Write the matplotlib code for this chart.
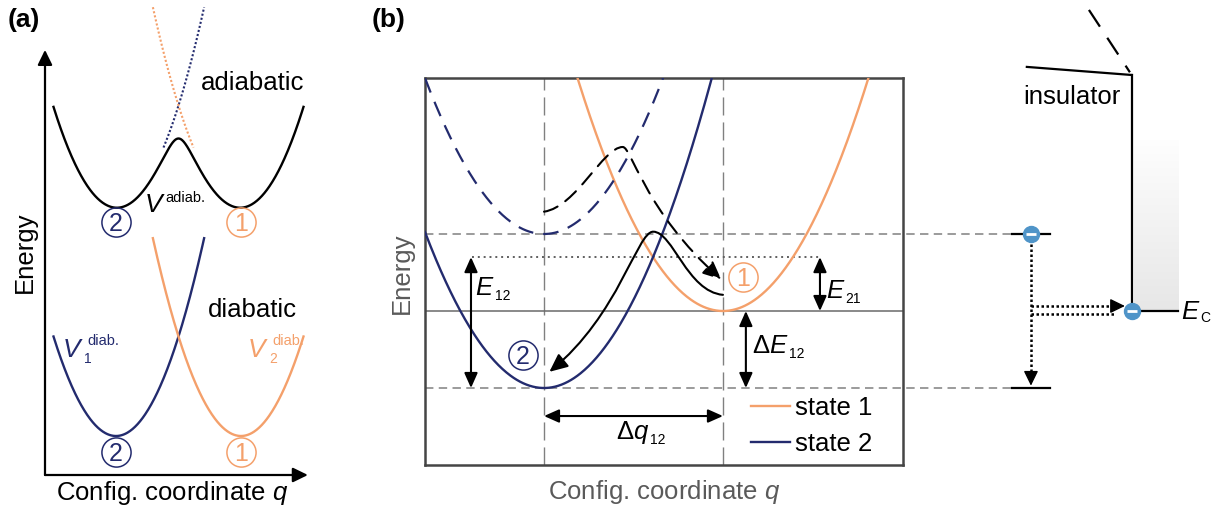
import numpy as np
import matplotlib
matplotlib.use("Agg")
import matplotlib.pyplot as plt
import matplotlib.transforms as mtransforms
from matplotlib.path import Path
from matplotlib.patches import FancyArrowPatch
from matplotlib.lines import Line2D

plt.rcParams['font.family'] = ['Liberation Sans', 'DejaVu Sans']
plt.rcParams['mathtext.fontset'] = 'custom'
plt.rcParams['mathtext.rm'] = 'Liberation Sans'
plt.rcParams['mathtext.it'] = 'Liberation Sans:italic'
plt.rcParams['mathtext.bf'] = 'Liberation Sans:bold'

NAVY = '#232b6e'
ORANGE = '#f4a06b'
GRID = '#808080'
LABEL_GRAY = '#5a5a5a'
ELECTRON = '#4f94c8'

# ---------------- (a) diabatic vs. adiabatic surfaces ----------------
a_q_min = [0.0, 1.0]            # well positions: state 2 (V1), state 1 (V2)
a_E_min = [0.0, 0.0]            # diabatic minima
a_curv = 3.98                   # harmonic curvature
a_adiab_offset = 2.31           # adiabatic pair drawn above the diabatic pair
a_coupling = 0.33               # electronic coupling splitting the crossing
a_span_v1 = [-0.50, 0.705]
a_span_v2 = [0.295, 1.50]
a_span_adiab = [-0.50, 1.50]
a_dotted_v1 = [0.38, 0.705]
a_dotted_v2 = [0.295, 0.62]

# ---------------- (b) configuration-coordinate diagram ----------------
b_state_names = ['state 1', 'state 2']
b_q_min = [1.0, 0.0]            # state 1, state 2
b_E_min = [1.0, 0.0]
b_curv = 4.58
b_E_state2_raised = 2.0         # state 2 shifted up (dashed)
b_E_cross = 1.70                # crossing energy of the two solid parabolas
b_dq = [0.0, 1.0]               # Delta q12 span
# capture paths (cubic Bezier control points)
b_path_solid = [(1.0, 1.21), (0.80, 1.25), (0.72, 2.03), (0.61, 2.03),
                (0.52, 2.03), (0.42, 0.95), (0.03, 0.21)]
b_path_dashed = [(0.0, 2.29), (0.18, 2.35), (0.33, 3.13), (0.44, 3.13),
                 (0.49, 3.13), (0.56, 2.30), (0.99, 1.41)]
# band sketch on the right
b_defect_q = [2.615, 2.827]
b_defect_E = [2.0, 0.0]
b_Ec = 1.0
b_Ec_q = [3.285, 3.542]
b_insul_q = 3.285
b_insul_top = 4.065
b_slant_q = [2.698, 3.285]
b_slant_E = [4.17, 4.065]
b_dash_q = [3.045, 3.274]
b_dash_E = [4.91, 4.10]
b_shade_q = [3.296, 3.542]
b_shade_E = [1.0, 3.22]

W, H = 1213, 511
fig = plt.figure(figsize=(W / 100, H / 100), dpi=100)
renderer = fig.canvas.get_renderer()


def frame(x0, y0, x1, y1):
    return [x0 / W, 1 - y1 / H, (x1 - x0) / W, (y1 - y0) / H]


axA = fig.add_axes(frame(45, 0, 310, 475))
axB = fig.add_axes(frame(425, 78, 903, 465))


def circled(ax, q, E, digit, color):
    ax.plot([q], [E], marker='o', ms=21, mfc='none', mec=color, mew=1.1,
            clip_on=False, zorder=6)
    tr = mtransforms.offset_copy(ax.transData, fig=fig, x=0, y=-6.3, units='points')
    ax.text(q, E, digit, color=color, fontsize=18, ha='center', va='baseline',
            transform=tr, zorder=6)


def scripted(ax, q, E, base, sub=None, sup=None, color='k', size=18.5,
             sub_size=10, sup_size=10.5, sub_dx=0.0, sub_dy=-3.6, sup_dx=0.0, sup_dy=7.5):
    """Symbol with a small upright subscript and/or superscript."""
    t = ax.text(q, E, base, fontsize=size, color=color, ha='left', va='baseline')
    w_pt = t.get_window_extent(renderer).width * 72 / fig.dpi
    if sub:
        tr = mtransforms.offset_copy(ax.transData, fig=fig, x=w_pt + sub_dx,
                                     y=sub_dy, units='points')
        ax.text(q, E, sub, fontsize=sub_size, color=color, ha='left',
                va='baseline', transform=tr)
    if sup:
        tr = mtransforms.offset_copy(ax.transData, fig=fig, x=w_pt + sup_dx,
                                     y=sup_dy, units='points')
        ax.text(q, E, sup, fontsize=sup_size, color=color, ha='left',
                va='baseline', transform=tr)


def parab(q, q0, E0, k):
    return E0 + k * (q - q0) ** 2


# ---------- panel (a) ----------
axA.set_xlim(-0.568, 1.552)
axA.set_ylim(-0.39, 4.36)
axA.axis('off')

q1 = np.linspace(*a_span_v1, 300)
q2 = np.linspace(*a_span_v2, 300)
axA.plot(q1, parab(q1, a_q_min[0], a_E_min[0], a_curv), color=NAVY, lw=1.7)
axA.plot(q2, parab(q2, a_q_min[1], a_E_min[1], a_curv), color=ORANGE, lw=1.7)

qa = np.linspace(*a_span_adiab, 500)
v1 = parab(qa, a_q_min[0], a_E_min[0], a_curv)
v2 = parab(qa, a_q_min[1], a_E_min[1], a_curv)
v_ad = a_adiab_offset + (v1 + v2) / 2 - np.sqrt(((v1 - v2) / 2) ** 2 + a_coupling ** 2)
axA.plot(qa, v_ad, color='k', lw=1.7, zorder=4)

qd1 = np.linspace(*a_dotted_v1, 100)
qd2 = np.linspace(*a_dotted_v2, 100)
axA.plot(qd1, a_adiab_offset + parab(qd1, a_q_min[0], a_E_min[0], a_curv),
         color=NAVY, lw=1.5, ls=(0, (1, 1)), zorder=3)
axA.plot(qd2, a_adiab_offset + parab(qd2, a_q_min[1], a_E_min[1], a_curv),
         color=ORANGE, lw=1.5, ls=(0, (1, 1)), zorder=3)

circled(axA, a_q_min[0], a_adiab_offset - 0.17, '2', NAVY)
circled(axA, a_q_min[1], a_adiab_offset - 0.17, '1', ORANGE)
circled(axA, a_q_min[0], a_E_min[0] - 0.16, '2', NAVY)
circled(axA, a_q_min[1], a_E_min[1] - 0.16, '1', ORANGE)

axA.text(1.092, 3.46, 'adiabatic', fontsize=18.5, ha='center', va='baseline')
axA.text(1.088, 1.19, 'diabatic', fontsize=18.5, ha='center', va='baseline')
scripted(axA, 0.225, 2.24, r'$V$', sup='adiab.', size=19, sup_dx=0.0, sup_dy=7.0)
scripted(axA, -0.43, 0.79, r'$V$', sub='1', sup='diab.', color=NAVY, size=19,
         sub_size=10, sub_dx=0.0, sub_dy=-4.3, sup_dx=2.5, sup_dy=8.6)
scripted(axA, 1.05, 0.79, r'$V$', sub='2', sup='diab.', color=ORANGE, size=19,
         sub_size=10, sub_dx=0.0, sub_dy=-4.3, sup_dx=2.5, sup_dy=8.6)

ax_arrow = dict(arrowstyle='-|>,head_length=0.45,head_width=0.22', color='k',
                lw=1.6, shrinkA=0, shrinkB=0, mutation_scale=20)
axA.annotate('', xy=(0, 0.895), xytext=(0, 0), xycoords='axes fraction',
             textcoords='axes fraction', arrowprops=ax_arrow)
axA.annotate('', xy=(0.992, 0), xytext=(0, 0), xycoords='axes fraction',
             textcoords='axes fraction', arrowprops=ax_arrow)
axA.text(-0.0755, 0.469, 'Energy', rotation=90, fontsize=18.5, ha='center',
         va='center', transform=axA.transAxes)
axA.text(0.479, -0.038, 'Config. coordinate $q$', fontsize=18.5, ha='center',
         va='center', transform=axA.transAxes)

# ---------- panel (b) ----------
xlo, xhi, ylo, yhi = -0.665, 2.006, -1.0, 4.026
axB.set_xlim(xlo, xhi)
axB.set_ylim(ylo, yhi)
axB.set_xticks([])
axB.set_yticks([])
for s in axB.spines.values():
    s.set_color('#454545')
    s.set_linewidth(1.8)

qb = np.linspace(xlo, xhi, 600)
axB.plot(qb, parab(qb, b_q_min[0], b_E_min[0], b_curv), color=ORANGE, lw=1.7, zorder=3)
axB.plot(qb, parab(qb, b_q_min[1], b_E_min[1], b_curv), color=NAVY, lw=1.7, zorder=3)
axB.plot(qb, parab(qb, b_q_min[1], b_E_state2_raised, b_curv), color=NAVY, lw=1.6,
         ls=(0, (7, 4.5)), zorder=3)

# reference levels
for qv in b_q_min:
    axB.axvline(qv, color=GRID, lw=1.0, ls=(0, (13, 5)), zorder=1)
axB.axhline(b_E_min[0], color='#6a6a6a', lw=1.1, zorder=1)
for Ev in [b_E_state2_raised, b_E_min[1]]:
    axB.plot([xlo, b_defect_q[0]], [Ev, Ev], color=GRID, lw=1.1, ls=(0, (5.5, 3.5)),
             clip_on=False, zorder=1)
axB.plot([-0.402, 1.553], [b_E_cross, b_E_cross], color='#5f5f5f', lw=1.4,
         ls=(0, (1, 2)), zorder=1)

dbl = dict(arrowstyle='<|-|>,head_length=0.45,head_width=0.2', color='k', lw=1.5,
           shrinkA=0, shrinkB=0, mutation_scale=20)
axB.annotate('', xy=(-0.408, b_E_cross), xytext=(-0.408, b_E_min[1]), arrowprops=dbl)
axB.annotate('', xy=(1.542, b_E_cross), xytext=(1.542, b_E_min[0]), arrowprops=dbl)
axB.annotate('', xy=(1.128, b_E_min[0]), xytext=(1.128, b_E_min[1]), arrowprops=dbl)
axB.annotate('', xy=(b_dq[0], -0.364), xytext=(b_dq[1], -0.364), arrowprops=dbl)

scripted(axB, -0.385, 1.21, r'$E$', sub='12')
scripted(axB, 1.575, 1.17, r'$E$', sub='21')
scripted(axB, 1.165, 0.455, r'$\Delta E$', sub='12')
scripted(axB, 0.405, -0.66, r'$\Delta q$', sub='12')

circled(axB, 1.112, 1.44, '1', ORANGE)
circled(axB, -0.117, 0.43, '2', NAVY)

codes = [Path.MOVETO] + [Path.CURVE4] * 6
axB.add_patch(FancyArrowPatch(
    path=Path(b_path_solid, codes),
    arrowstyle='-|>,head_length=0.55,head_width=0.25', mutation_scale=20,
    color='k', lw=1.5, zorder=5))
axB.add_patch(FancyArrowPatch(
    path=Path(b_path_dashed, codes),
    arrowstyle='-|>,head_length=0.55,head_width=0.25', mutation_scale=20,
    color='k', lw=1.5, ls=(0, (7, 4.5)), zorder=5))

handles = [Line2D([], [], color=ORANGE, lw=1.7), Line2D([], [], color=NAVY, lw=1.7)]
axB.legend(handles, b_state_names, loc='upper left', bbox_to_anchor=(0.682, 0.178),
           frameon=False, fontsize=18.5, handlelength=1.5, handletextpad=0.2,
           labelspacing=0.45, borderpad=0, borderaxespad=0)

axB.text(-0.048, 0.496, 'Energy', rotation=90, fontsize=18.5, ha='center',
         va='center', color=LABEL_GRAY, transform=axB.transAxes)
axB.text(0.5, -0.07, 'Config. coordinate $q$', fontsize=18.5, ha='center',
         va='center', color=LABEL_GRAY, transform=axB.transAxes)

# band sketch: defect levels, insulator edge, conduction band
shade = np.linspace(0.995, 0.905, 100)[:, None, None] * np.ones((1, 1, 3))
im = axB.imshow(shade, extent=(b_shade_q[0], b_shade_q[1], b_shade_E[0], b_shade_E[1]),
                aspect='auto', interpolation='bilinear', zorder=0)
im.set_clip_on(False)

for Ev in b_defect_E:
    axB.plot(b_defect_q, [Ev, Ev], color='k', lw=1.6, clip_on=False, zorder=4)
axB.plot(b_Ec_q, [b_Ec, b_Ec], color='k', lw=1.6, clip_on=False, zorder=4)
axB.plot([b_insul_q, b_insul_q], [b_Ec, b_insul_top], color='k', lw=1.6,
         clip_on=False, zorder=4)
axB.plot(b_slant_q, b_slant_E, color='k', lw=1.6, clip_on=False, zorder=4)
axB.plot(b_dash_q, b_dash_E, color='k', lw=1.6, ls=(0, (9, 6)), clip_on=False, zorder=4)
axB.text(2.676, 3.69, 'insulator', fontsize=18.5, ha='left', va='baseline')
scripted(axB, 3.56, 0.896, r'$E$', sub='C', sub_dx=0.0, sub_dy=-2.2)

q_e = np.mean(b_defect_q)
dot = dict(color='k', lw=1.8, ls=(0, (1, 1)), clip_on=False, zorder=4)
axB.plot([q_e, q_e], [1.87, 0.15], **dot)
axB.plot([q_e, 3.18], [1.065, 1.065], **dot)
axB.plot([q_e, 3.196], [0.961, 0.961], **dot)
head = dict(arrowstyle='-|>,head_length=0.45,head_width=0.22', color='k', lw=1.0,
            shrinkA=0, shrinkB=0, mutation_scale=20)
axB.annotate('', xy=(q_e, 0.03), xytext=(q_e, 0.2), arrowprops=head,
             annotation_clip=False)
axB.annotate('', xy=(3.246, 1.065), xytext=(3.17, 1.065), arrowprops=head,
             annotation_clip=False)

for qe, Ee in [(q_e, b_defect_E[0]), (b_insul_q, b_Ec)]:
    axB.plot([qe], [Ee], marker='o', ms=11.5, mfc=ELECTRON, mec=ELECTRON,
             clip_on=False, zorder=7)
    axB.plot([qe], [Ee], marker='_', ms=7, mec='white', mew=2.0,
             clip_on=False, zorder=8)

axB.set_xlim(xlo, xhi)
axB.set_ylim(ylo, yhi)

fig.text(8 / W, 1 - 20 / H, '(a)', fontsize=19, fontweight='bold', ha='left', va='center')
fig.text(372 / W, 1 - 20 / H, '(b)', fontsize=19, fontweight='bold', ha='left', va='center')

fig.savefig('out.png', dpi=100)
